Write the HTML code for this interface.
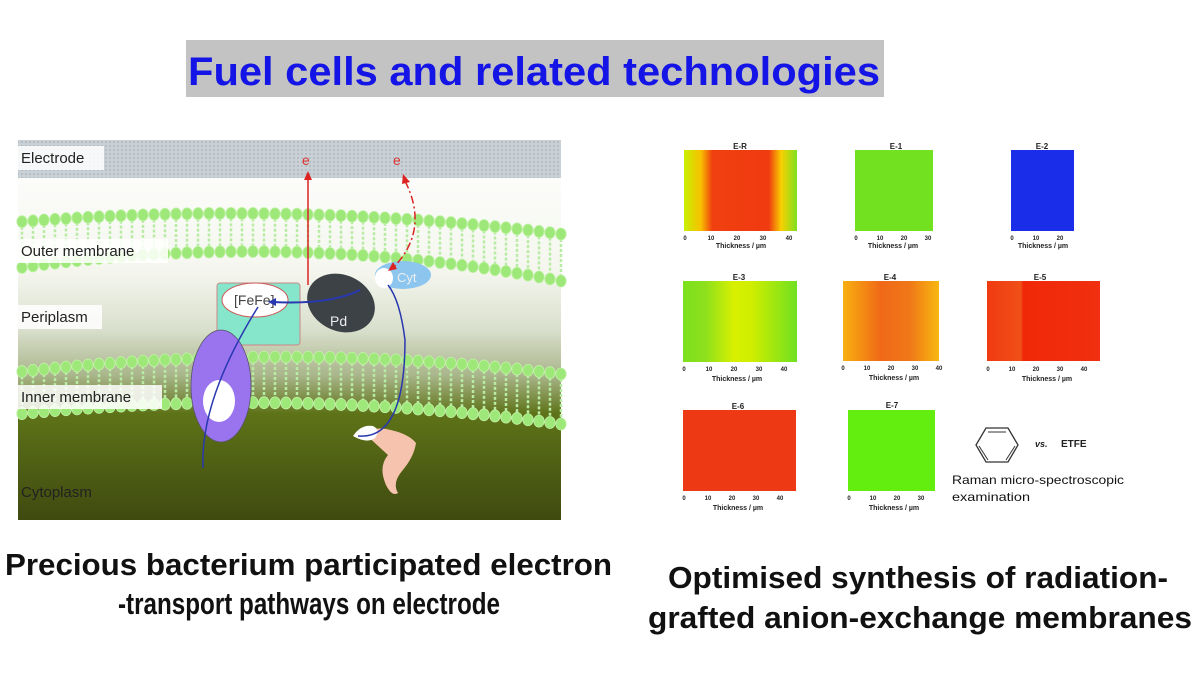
<!DOCTYPE html>
<html><head><meta charset="utf-8"><style>
html,body{margin:0;padding:0;background:#fff;width:1200px;height:675px;overflow:hidden}
svg{display:block}
</style></head><body>
<svg id="s" width="1200" height="675" viewBox="0 0 1200 675" xmlns="http://www.w3.org/2000/svg" font-family="Liberation Sans, sans-serif">
<defs>
<linearGradient id="bg" x1="0" y1="0" x2="0" y2="1">
<stop offset="0" stop-color="#ffffff"/>
<stop offset="0.35" stop-color="#f4f6ee"/>
<stop offset="0.5" stop-color="#d9dfcc"/>
<stop offset="0.62" stop-color="#a9b58a"/>
<stop offset="0.72" stop-color="#5e7318"/>
<stop offset="1" stop-color="#3f4a10"/>
</linearGradient>
<pattern id="dots" width="4" height="4" patternUnits="userSpaceOnUse"><rect width="4" height="4" fill="#c9d1d6"/><circle cx="2" cy="2" r="1" fill="#aeb8be"/></pattern>
<linearGradient id="er" x1="0" x2="1"><stop offset="0" stop-color="#c8f000"/><stop offset="0.15" stop-color="#f8c000"/><stop offset="0.25" stop-color="#f04010"/><stop offset="0.75" stop-color="#f03a10"/><stop offset="0.86" stop-color="#f8d000"/><stop offset="1" stop-color="#7ee020"/></linearGradient>
<linearGradient id="e3" x1="0" x2="1"><stop offset="0" stop-color="#7ce01c"/><stop offset="0.2" stop-color="#8ee01c"/><stop offset="0.45" stop-color="#d8f000"/><stop offset="0.6" stop-color="#d0ee00"/><stop offset="1" stop-color="#70e020"/></linearGradient>
<linearGradient id="e4" x1="0" x2="1"><stop offset="0" stop-color="#f8b010"/><stop offset="0.4" stop-color="#f06818"/><stop offset="0.7" stop-color="#f07818"/><stop offset="1" stop-color="#f8b810"/></linearGradient>
<linearGradient id="e5" x1="0" x2="1"><stop offset="0" stop-color="#f03a10"/><stop offset="0.3" stop-color="#f05018"/><stop offset="0.32" stop-color="#f02808"/><stop offset="1" stop-color="#f03010"/></linearGradient>
</defs>

<rect x="186" y="40" width="698" height="57" fill="#c3c3c3"/>
<text x="188" y="85" font-size="40" font-weight="bold" fill="#1414e6" textLength="692" lengthAdjust="spacingAndGlyphs">Fuel cells and related technologies</text>

<rect x="18" y="140" width="543" height="380" fill="url(#bg)"/>
<rect x="18" y="140" width="543" height="38" fill="url(#dots)"/>
<g id="mem"></g>
<rect x="217" y="283" width="83" height="62" rx="3" fill="#86e6cc" stroke="#c88" stroke-width="1"/>
<ellipse cx="255" cy="300" rx="33" ry="17" fill="#fff" stroke="#c55" stroke-width="1"/>
<text x="234" y="305" font-size="14" fill="#444">[FeFe]</text>
<ellipse cx="341" cy="303" rx="35" ry="28" transform="rotate(25 341 303)" fill="#3d4247"/>
<text x="330" y="326" font-size="14" fill="#eee">Pd</text>
<ellipse cx="403" cy="275" rx="28" ry="14" fill="#8cc6ef"/>
<ellipse cx="384" cy="278" rx="9" ry="10" fill="#fff"/>
<text x="397" y="282" font-size="13" fill="#eee">Cyt</text>
<ellipse cx="221" cy="386" rx="30" ry="56" fill="#9a74ee" stroke="#556" stroke-width="0.8"/>
<ellipse cx="219" cy="401" rx="16" ry="21" fill="#fff"/>
<path d="M364 433 q10 -6 22 -4 q22 4 30 14 q-2 14 -14 28 q-10 12 -4 22 q-6 4 -12 -8 q-8 -18 2 -30 z" fill="#f6c4ae"/>
<path d="M353 436 q8 -12 20 -10 q8 4 2 12 q-8 6 -22 -2z" fill="#fff"/>
<line x1="308" y1="285" x2="308" y2="178" stroke="#d22" stroke-width="1.5"/>
<polygon points="308,171 304,180 312,180" fill="#d22"/>
<text x="302" y="165" font-size="14" fill="#d33">e</text>
<text x="393" y="165" font-size="14" fill="#d33">e</text>
<path d="M405 181 Q 430 230 393 268" fill="none" stroke="#d22" stroke-width="1.5" stroke-dasharray="8 3 2 3"/>
<polygon points="403,174 402,184 410,182" fill="#d22"/>
<polygon points="388,271 393,262 397,269" fill="#d22"/>
<path d="M258 307 Q 200 400 203 468" fill="none" stroke="#2838b0" stroke-width="1.5"/>
<path d="M358 436 Q 405 440 405 340 Q 400 300 388 285" fill="none" stroke="#2838b0" stroke-width="1.5"/>
<path d="M360 290 Q 330 305 272 302" fill="none" stroke="#2838b0" stroke-width="2"/>
<polygon points="268,302 276,298 276,306" fill="#2838b0"/>
<g font-size="15" fill="#222">
<rect x="18" y="146" width="86" height="24" fill="#fff" opacity="0.85"/><text x="21" y="163">Electrode</text>
<rect x="18" y="239" width="150" height="24" fill="#fff" opacity="0.85"/><text x="21" y="256">Outer membrane</text>
<rect x="18" y="305" width="84" height="24" fill="#fff" opacity="0.85"/><text x="21" y="322">Periplasm</text>
<rect x="18" y="385" width="144" height="24" fill="#fff" opacity="0.85"/><text x="21" y="402">Inner membrane</text>
<text x="21" y="497">Cytoplasm</text>
</g>

<g font-weight="bold" fill="#222" id="rp">
<g font-size="8" text-anchor="middle">
<text x="740" y="149">E-R</text><text x="896" y="149">E-1</text><text x="1042" y="149">E-2</text>
<text x="739" y="280">E-3</text><text x="890" y="280">E-4</text><text x="1040" y="280">E-5</text>
<text x="738" y="409">E-6</text><text x="892" y="408">E-7</text>
</g>
<rect x="684" y="150" width="113" height="81" fill="url(#er)"/>
<rect x="855" y="150" width="78" height="81" fill="#72e220"/>
<rect x="1011" y="150" width="63" height="81" fill="#1a2de8"/>
<rect x="683" y="281" width="114" height="81" fill="url(#e3)"/>
<rect x="843" y="281" width="96" height="80" fill="url(#e4)"/>
<rect x="987" y="281" width="113" height="80" fill="url(#e5)"/>
<rect x="683" y="410" width="113" height="81" fill="#ee3a14"/>
<rect x="848" y="410" width="87" height="81" fill="#64ee10"/>
<g font-size="7" text-anchor="middle">
<text x="741" y="248">Thickness / µm</text><text x="893" y="248">Thickness / µm</text><text x="1043" y="248">Thickness / µm</text>
<text x="737" y="381">Thickness / µm</text><text x="894" y="380">Thickness / µm</text><text x="1047" y="381">Thickness / µm</text>
<text x="738" y="510">Thickness / µm</text><text x="894" y="510">Thickness / µm</text>
</g>
<polygon points="986,428 1008,428 1018,445 1008,462 986,462 976,445" fill="none" stroke="#333" stroke-width="1.3"/>
<line x1="988" y1="432" x2="1006" y2="432" stroke="#333" stroke-width="1"/>
<line x1="979" y1="446" x2="988" y2="460" stroke="#333" stroke-width="1"/>
<line x1="1015" y1="446" x2="1006" y2="460" stroke="#333" stroke-width="1"/>
<text x="1035" y="447" font-size="9" font-style="italic">vs.</text>
<text x="1061" y="447" font-size="10">ETFE</text>
<text x="952" y="484" font-size="12" font-weight="normal" fill="#111" textLength="172" lengthAdjust="spacingAndGlyphs">Raman micro-spectroscopic</text>
<text x="952" y="501" font-size="12" font-weight="normal" fill="#111" textLength="78" lengthAdjust="spacingAndGlyphs">examination</text>
</g>

<g font-weight="bold" fill="#111" font-size="31">
<text x="5" y="575" textLength="607" lengthAdjust="spacingAndGlyphs">Precious bacterium participated electron</text>
<text x="118" y="614" textLength="382" lengthAdjust="spacingAndGlyphs">-transport pathways on electrode</text>
<text x="668" y="588" textLength="500" lengthAdjust="spacingAndGlyphs">Optimised synthesis of radiation-</text>
<text x="648" y="628" textLength="544" lengthAdjust="spacingAndGlyphs">grafted anion-exchange membranes</text>
</g>
</svg>
<script>
(function(){
var g=document.getElementById('mem'),h='';
function curve(yl,ym,yr,x){var t=(x-18)/543; return (1-t)*(1-t)*yl+2*t*(1-t)*(2*ym-(yl+yr)/2)+t*t*yr;}
function layer(a,b){
 for(var x=22;x<565;x+=11){
  var y1=curve(a[0],a[1],a[2],x),y2=curve(b[0],b[1],b[2],x);
  h+='<line x1="'+x+'" y1="'+(y1+5)+'" x2="'+x+'" y2="'+(y2-5)+'" stroke="#b8eca4" stroke-width="2.5" stroke-dasharray="3 2"/>';
  h+='<ellipse cx="'+x+'" cy="'+y1+'" rx="5.2" ry="6" fill="#9ee87a" stroke="#c2f2a8" stroke-width="0.8"/>';
  h+='<ellipse cx="'+x+'" cy="'+y2+'" rx="5.2" ry="6" fill="#9ee87a" stroke="#c2f2a8" stroke-width="0.8"/>';
 }}
layer([222,214,234],[268,252,281]);
layer([372,357,374],[414,403,424]);
g.innerHTML=h;
var T=[[685,2.6,40,240],[856,2.4,30,240],[1012,2.4,20,240],[684,2.5,40,371],[843,2.4,40,370],[988,2.4,40,371],[684,2.4,40,500],[849,2.4,30,500]];
var s='';
T.forEach(function(t){for(var v=0;v<=t[2];v+=10){s+='<text x="'+(t[0]+v*t[1])+'" y="'+t[3]+'" font-size="6" text-anchor="middle">'+v+'</text>';}});
document.getElementById('rp').insertAdjacentHTML('beforeend',s);
})();
</script>
</body></html>
